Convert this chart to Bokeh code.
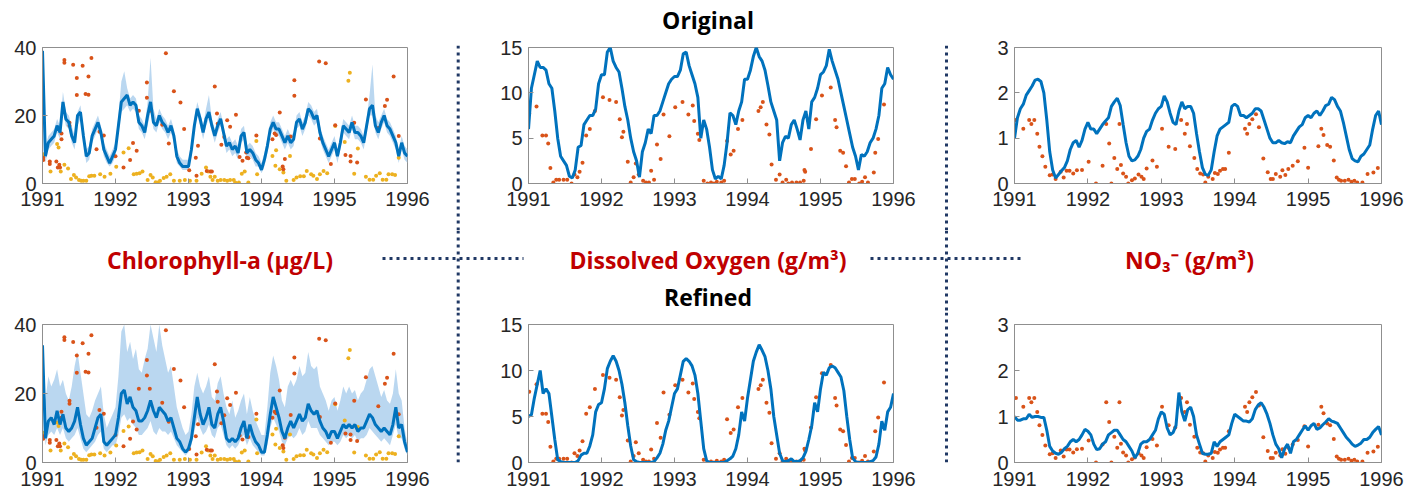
import numpy as np
from bokeh.plotting import figure
from bokeh.layouts import column, row
from bokeh.models import Range1d, FixedTicker, Span
from bokeh.core.properties import value
from bokeh.embed import file_html
from bokeh.resources import INLINE

# ---------------------------------------------------------------- data
# model output is sampled every 0.04 yr from 1991.00 to 1996.00 (126 samples)
model_t = 1991 + 0.04 * np.arange(126)

# Chlorophyll-a (ug/L), original calibration: median and spread
chl_orig = [39, 8, 12, 13, 14, 17, 15, 24, 19, 18, 14, 12, 20, 21, 14, 8, 9, 14, 16, 18, 15, 10, 8, 6, 8,
            10, 17, 24, 25, 26, 23, 24, 23, 18, 17, 15, 20, 24, 18, 17, 20, 18, 17, 15, 17, 14, 8, 6, 5, 5,
            5, 10, 17, 22, 19, 15, 19, 21, 17, 14, 17, 19, 15, 11, 12, 10, 11, 9, 14, 15, 9, 10, 9, 7, 6,
            4, 7, 11, 16, 18, 16, 16, 14, 12, 14, 12, 13, 18, 19, 16, 18, 22, 21, 19, 20, 15, 12, 10, 8, 10,
            12, 8, 12, 17, 16, 15, 18, 15, 15, 14, 12, 17, 22, 23, 17, 15, 18, 20, 17, 16, 14, 12, 8, 12, 9, 8]
chl_orig_hi = [40, 11, 14, 15, 16, 19, 17, 27, 21, 20, 17, 14, 21, 23, 17, 10, 11, 16, 18, 20, 17, 12, 10, 8, 10,
               12, 20, 30, 33, 28, 25, 26, 25, 20, 19, 17, 24, 37, 22, 19, 22, 20, 19, 17, 19, 16, 10, 8, 7, 7,
               7, 12, 19, 24, 21, 17, 22, 26, 19, 16, 19, 21, 17, 13, 14, 12, 13, 11, 16, 17, 11, 12, 11, 9, 8,
               6, 9, 13, 18, 20, 18, 18, 16, 14, 16, 14, 15, 20, 21, 18, 20, 24, 23, 21, 22, 17, 14, 12, 10, 12,
               14, 10, 14, 19, 18, 17, 20, 17, 17, 16, 14, 19, 26, 35, 20, 18, 20, 22, 19, 18, 16, 14, 10, 14, 11, 10]
chl_orig_lo = [33, 6, 10, 11, 12, 15, 13, 21, 17, 16, 12, 10, 17, 19, 12, 6, 7, 12, 14, 16, 13, 8, 6, 5, 6,
               8, 15, 21, 22, 23, 21, 22, 21, 16, 15, 13, 17, 21, 16, 15, 18, 16, 15, 13, 15, 12, 6, 5, 4, 4,
               4, 8, 15, 20, 17, 13, 17, 19, 15, 12, 15, 17, 13, 9, 10, 8, 9, 7, 12, 13, 7, 8, 7, 5, 5,
               3, 5, 9, 14, 16, 14, 14, 12, 10, 12, 10, 11, 16, 17, 14, 16, 20, 19, 17, 18, 13, 10, 8, 6, 8,
               10, 6, 10, 15, 14, 13, 16, 13, 13, 12, 10, 15, 20, 20, 15, 13, 16, 18, 15, 14, 12, 10, 6, 10, 7, 6]

# Chlorophyll-a (ug/L), refined calibration
chl_ref = [34, 7, 12, 13, 11, 15, 11, 14, 10, 9, 10, 12, 16, 11, 7, 5, 6, 7, 10, 13, 14, 6, 5, 6, 7,
           8, 13, 20, 21, 17, 19, 16, 15, 12, 12, 13, 15, 18, 15, 13, 16, 15, 14, 12, 13, 10, 7, 6, 4, 3,
           4, 7, 13, 19, 14, 11, 13, 16, 11, 10, 14, 16, 12, 7, 6, 7, 6, 7, 10, 12, 7, 11, 8, 6, 5,
           3, 3, 8, 14, 19, 16, 13, 9, 7, 10, 12, 10, 12, 14, 12, 13, 17, 15, 14, 15, 12, 10, 9, 7, 9,
           9, 7, 9, 11, 10, 11, 10, 11, 9, 10, 10, 12, 14, 13, 11, 10, 9, 10, 9, 8, 11, 16, 10, 11, 6, 3]
chl_ref_hi = [34, 18, 25, 22, 24, 27, 22, 24, 20, 18, 22, 28, 32, 26, 20, 14, 13, 15, 18, 20, 22, 14, 10, 12, 14,
              16, 25, 38, 40, 32, 35, 30, 33, 27, 26, 30, 33, 40, 36, 32, 40, 34, 30, 26, 28, 22, 16, 13, 10, 8,
              9, 14, 22, 26, 22, 20, 22, 25, 19, 18, 23, 25, 20, 16, 14, 18, 13, 15, 18, 20, 14, 19, 15, 12, 10,
              8, 8, 16, 26, 31, 28, 24, 18, 16, 22, 24, 22, 24, 28, 25, 26, 32, 28, 27, 28, 22, 20, 18, 15, 18,
              19, 15, 18, 22, 20, 22, 20, 21, 18, 20, 21, 24, 27, 28, 25, 22, 19, 21, 18, 17, 20, 27, 20, 18, 10, 5]
chl_ref_lo = [28, 5, 8, 9, 8, 10, 8, 10, 7, 6, 7, 8, 10, 7, 4, 3, 4, 5, 6, 8, 9, 4, 3, 4, 5,
              5, 8, 13, 14, 12, 13, 11, 10, 8, 8, 9, 10, 12, 9, 8, 10, 9, 9, 8, 9, 7, 5, 4, 3, 2,
              3, 5, 9, 13, 10, 8, 9, 11, 8, 7, 10, 11, 8, 5, 4, 5, 4, 5, 7, 8, 5, 7, 5, 4, 3,
              2, 2, 5, 10, 13, 11, 9, 6, 5, 7, 8, 7, 8, 10, 8, 9, 12, 10, 10, 10, 8, 7, 6, 5, 6,
              6, 5, 6, 8, 7, 8, 7, 8, 6, 7, 7, 8, 10, 9, 8, 7, 6, 7, 6, 5, 8, 11, 7, 7, 4, 2]

# Dissolved oxygen (g/m3)
do_orig = [6, 10.5, 12, 13.5, 12.8, 12.8, 12.5, 11, 10.5, 8, 5, 3, 2.5, 2, 0.8, 0.6, 1.5, 4, 4.2, 6.5, 7, 7.5, 7.5, 8.2, 11,
           12, 12, 14.5, 15, 13.5, 12.8, 12.3, 10.5, 8.5, 7, 5, 3.5, 2.5, 0.7, 3.5, 4.5, 6, 5.5, 7.5, 7.5, 8, 9, 10, 11, 11.5,
           11.8, 11.8, 12.5, 14.3, 14.5, 13, 12, 11, 9.5, 5, 7, 6, 4, 1.5, 0.5, 0.8, 0.5, 2, 4.5, 7.8, 7.5, 6.5, 8, 9, 11.5,
           11.5, 12.5, 14, 15, 14, 13.5, 12.5, 10.8, 9, 8, 7, 2.5, 4.5, 5.2, 5, 6.5, 7, 6, 4.8, 7, 8, 6, 9, 9.5, 10.5,
           12, 12.3, 13, 14.8, 13.5, 12.5, 11.5, 10, 8.5, 7, 5.5, 4, 3, 1.5, 3.2, 3, 3.5, 4.5, 5, 6, 7.5, 10.5, 11, 12.8, 12, 11.5]
do_ref = [5, 5.2, 7, 8.5, 10, 7.5, 8, 7.5, 5, 2.5, 0.3, 0.1, 0, 0, 0, 0, 0, 0.2, 0.8, 1, 1, 1.8, 3, 5.5, 6.3,
          6.5, 8, 10.2, 11, 11.6, 11, 10, 8.5, 6.5, 4, 1.8, 0.3, 0.1, 0, 0, 0, 0, 0, 0.1, 0.5, 1, 2, 3.5, 4.5, 6,
          7.5, 8, 9.5, 11, 11.3, 11, 10.5, 9.5, 7.5, 4.5, 1.5, 0.2, 0, 0, 0, 0, 0, 0, 0.2, 0.4, 0.7, 1.5, 3, 5.5, 4.5,
          7, 9, 11, 12, 12.8, 12.2, 11.5, 10, 8, 5, 3, 1, 0.2, 0.1, 0.2, 0.4, 0.1, 0.1, 0.2, 0.5, 1.2, 2.5, 4, 6.5, 5.5,
          8, 9.8, 9.5, 10.3, 10.5, 10.3, 9.8, 9.3, 7.8, 5, 2.5, 0.5, 0.1, 0, 0, 0, 0, 0.1, 0.2, 0.6, 2, 4.5, 3.5, 5.5, 6, 7.5]

# Nitrate (g/m3)
no3_orig = [1.0, 1.45, 1.65, 1.75, 1.95, 2.05, 2.15, 2.28, 2.3, 2.25, 2.0, 1.4, 0.7, 0.3, 0.12, 0.2, 0.28, 0.35, 0.5, 0.75, 0.9, 0.95, 0.8, 0.95, 1.2,
            1.35, 1.2, 1.2, 1.1, 1.2, 1.3, 1.38, 1.45, 1.7, 1.8, 1.88, 1.72, 1.3, 0.9, 0.6, 0.5, 0.52, 0.6, 0.75, 1.0, 1.15, 1.2, 1.4, 1.55, 1.65,
            1.7, 1.93, 1.8, 1.55, 1.35, 1.3, 1.6, 1.8, 1.65, 1.7, 1.7, 1.55, 1.1, 0.7, 0.35, 0.2, 0.18, 0.3, 0.7, 1.05, 1.2, 1.25, 1.3, 1.35, 1.7,
            1.75, 1.7, 1.5, 1.5, 1.45, 1.5, 1.55, 1.65, 1.65, 1.6, 1.4, 1.2, 1.0, 0.9, 0.9, 0.95, 0.9, 0.88, 0.92, 0.9, 1.05, 1.15, 1.25, 1.3, 1.45,
            1.5, 1.45, 1.55, 1.6, 1.5, 1.6, 1.72, 1.75, 1.9, 1.85, 1.7, 1.6, 1.35, 1.05, 0.75, 0.55, 0.5, 0.48, 0.6, 0.65, 0.75, 0.85, 1.2, 1.5, 1.6, 1.3]
no3_ref = [1.0, 0.92, 0.92, 0.95, 0.95, 1.05, 0.98, 1.0, 1.0, 0.98, 0.98, 0.7, 0.35, 0.25, 0.2, 0.18, 0.22, 0.3, 0.35, 0.45, 0.5, 0.45, 0.5, 0.6, 0.72,
           0.68, 0.6, 0.4, 0.28, 0.3, 0.4, 0.45, 0.6, 0.65, 0.7, 0.7, 0.6, 0.5, 0.45, 0.35, 0.25, 0.1, 0.2, 0.4, 0.45, 0.45, 0.5, 0.6, 0.7, 0.95,
           1.1, 1.05, 0.75, 0.6, 0.65, 0.8, 1.52, 1.1, 0.9, 1.15, 1.2, 1.0, 0.6, 0.4, 0.2, 0.18, 0.18, 0.2, 0.45, 0.35, 0.45, 0.5, 0.55, 0.6, 0.85,
           1.05, 1.0, 0.95, 0.9, 0.9, 0.88, 0.95, 1.15, 1.25, 1.3, 1.2, 1.05, 0.85, 0.6, 0.4, 0.3, 0.1, 0.3, 0.4, 0.2, 0.45, 0.5, 0.6, 0.7, 0.8,
           0.7, 0.8, 0.85, 0.72, 0.75, 0.82, 0.88, 0.95, 0.9, 0.88, 0.85, 0.75, 0.65, 0.55, 0.48, 0.4, 0.35, 0.38, 0.42, 0.5, 0.5, 0.55, 0.65, 0.72, 0.78, 0.6]

# field observations (decimal year, value)
chl_obs_a = [(1991.01, 7.6), (1991.01, 6.9), (1991.10, 6.5), (1991.10, 5.7), (1991.19, 6.5), (1991.21, 4.7),
             (1991.23, 5.5), (1991.24, 4.7), (1991.26, 14.7), (1991.26, 13.0), (1991.30, 36.3), (1991.30, 35.5),
             (1991.37, 17.9), (1991.37, 17.0), (1991.42, 34.9), (1991.47, 31.0), (1991.47, 26.0), (1991.55, 34.6),
             (1991.59, 26.3), (1991.63, 26.1), (1991.63, 31.5), (1991.67, 36.9), (1991.74, 10.1), (1991.78, 15.2),
             (1991.84, 14.1), (1992.00, 8.0), (1992.11, 4.7), (1992.20, 6.9), (1992.24, 11.9), (1992.29, 9.6),
             (1992.32, 21.4), (1992.43, 29.7), (1992.43, 25.2), (1992.47, 21.4), (1992.64, 17.3), (1992.69, 38.3),
             (1992.73, 11.8), (1992.80, 27.1), (1992.89, 23.8), (1992.94, 16.0), (1993.01, 3.9), (1993.10, 7.6),
             (1993.11, 2.3), (1993.13, 11.1), (1993.25, 3.7), (1993.30, 3.5), (1993.32, 3.5), (1993.36, 28.5),
             (1993.39, 20.6), (1993.40, 17.6), (1993.45, 11.4), (1993.49, 13.7), (1993.53, 18.6), (1993.57, 16.7),
             (1993.65, 20.2), (1993.70, 7.8), (1993.74, 6.7), (1993.79, 9.1), (1993.80, 7.6), (1993.82, 7.4),
             (1993.93, 14.1), (1994.15, 13.0), (1994.18, 14.7), (1994.20, 14.3), (1994.25, 20.9), (1994.29, 5.0),
             (1994.30, 4.2), (1994.32, 7.2), (1994.40, 13.8), (1994.45, 30.4), (1994.45, 25.8), (1994.79, 35.9),
             (1994.80, 13.2), (1994.88, 35.4), (1994.95, 5.7), (1995.01, 17.1), (1995.15, 8.4), (1995.22, 8.1),
             (1995.22, 6.5), (1995.27, 17.9), (1995.31, 6.2), (1995.43, 24.7), (1995.60, 16.3), (1995.69, 22.8),
             (1995.72, 24.6), (1995.81, 31.5), (1995.88, 14.0)]
chl_obs_b = [(1991.01, 8.6), (1991.01, 8.1), (1991.20, 11.6), (1991.22, 10.6), (1991.11, 3.5), (1991.25, 3.5),
             (1991.30, 5.5), (1991.35, 4.4), (1991.39, 1.3), (1991.43, 2.5), (1991.46, 1.8), (1991.50, 1.0),
             (1991.53, 0.8), (1991.56, 0.8), (1991.60, 0.8), (1991.64, 2.1), (1991.67, 2.3), (1991.71, 2.3),
             (1991.79, 2.7), (1991.85, 2.0), (1991.93, 2.9), (1992.01, 4.9), (1992.11, 9.1), (1992.18, 10.4),
             (1992.25, 2.7), (1992.29, 2.9), (1992.33, 3.0), (1992.37, 3.5), (1992.44, 1.0), (1992.48, 2.5),
             (1992.51, 1.8), (1992.55, 0.4), (1992.58, 0.3), (1992.61, 0.8), (1992.66, 1.6), (1992.70, 2.0),
             (1992.75, 2.7), (1992.80, 0.8), (1992.88, 0.8), (1992.95, 1.0), (1993.02, 0.8), (1993.11, 0.8),
             (1993.18, 2.9), (1993.24, 4.7), (1993.27, 3.5), (1993.30, 2.0), (1993.33, 1.0), (1993.36, 2.0),
             (1993.40, 0.8), (1993.44, 1.0), (1993.49, 1.0), (1993.53, 0.8), (1993.57, 1.0), (1993.62, 1.0),
             (1993.64, 0.3), (1993.69, 0.3), (1993.73, 2.9), (1993.77, 3.5), (1993.82, 0.3), (1993.93, 12.5),
             (1993.94, 2.7), (1994.15, 8.1), (1994.19, 5.2), (1994.20, 9.8), (1994.25, 4.2), (1994.30, 3.2),
             (1994.34, 0.8), (1994.39, 8.1), (1994.44, 1.0), (1994.48, 1.8), (1994.53, 2.1), (1994.58, 2.1),
             (1994.62, 3.7), (1994.68, 2.7), (1994.71, 2.3), (1994.76, 1.3), (1994.80, 2.7), (1994.85, 3.7),
             (1994.90, 3.0), (1995.01, 16.9), (1995.14, 12.2), (1995.19, 30.2), (1995.21, 32.6), (1995.27, 2.9),
             (1995.32, 10.3), (1995.43, 2.0), (1995.48, 1.1), (1995.53, 1.1), (1995.57, 2.3), (1995.62, 3.0),
             (1995.66, 1.1), (1995.71, 1.1), (1995.74, 2.7), (1995.79, 2.7), (1995.83, 2.5), (1995.88, 7.6)]
do_obs = [(1991.01, 7.7), (1991.11, 8.5), (1991.19, 5.3), (1991.24, 5.3), (1991.27, 4.4), (1991.30, 1.7),
          (1991.34, 0.1), (1991.38, 0.4), (1991.42, 0.4), (1991.48, 0.4), (1991.53, 0.4), (1991.59, 0.0),
          (1991.63, 1.0), (1991.67, 0.7), (1991.70, 1.3), (1991.74, 2.3), (1991.79, 5.3), (1991.84, 6.0),
          (1991.91, 8.0), (1992.02, 9.5), (1992.11, 9.2), (1992.20, 9.0), (1992.25, 7.1), (1992.28, 5.1),
          (1992.30, 5.7), (1992.36, 2.4), (1992.40, 0.1), (1992.44, 0.7), (1992.47, 2.2), (1992.51, 1.0),
          (1992.57, 0.3), (1992.61, 0.1), (1992.65, 0.1), (1992.68, 1.4), (1992.72, 0.4), (1992.76, 4.3),
          (1992.81, 2.7), (1992.85, 7.6), (1992.93, 5.2), (1993.01, 8.4), (1993.11, 9.0), (1993.19, 7.6),
          (1993.25, 8.6), (1993.27, 6.9), (1993.32, 5.5), (1993.34, 4.8), (1993.40, 0.3), (1993.45, 0.0),
          (1993.50, 0.1), (1993.54, 0.0), (1993.58, 0.2), (1993.64, 0.1), (1993.68, 0.3), (1993.72, 4.7),
          (1993.77, 3.2), (1993.81, 3.6), (1993.87, 6.0), (1993.93, 7.0), (1994.15, 8.0), (1994.18, 8.4),
          (1994.21, 9.0), (1994.26, 6.5), (1994.30, 5.4), (1994.33, 2.1), (1994.39, 0.4), (1994.44, 1.0),
          (1994.48, 0.1), (1994.53, 0.4), (1994.56, 0.0), (1994.61, 0.1), (1994.67, 0.1), (1994.72, 0.1),
          (1994.77, 0.3), (1994.78, 1.5), (1994.79, 1.3), (1994.87, 3.8), (1994.94, 7.1), (1995.02, 9.7),
          (1995.14, 10.6), (1995.20, 7.0), (1995.22, 6.2), (1995.27, 3.6), (1995.31, 3.4), (1995.35, 1.9),
          (1995.39, 0.1), (1995.43, 0.5), (1995.47, 0.5), (1995.53, 0.0), (1995.57, 0.2), (1995.61, 0.7),
          (1995.65, 0.1), (1995.73, 1.2), (1995.75, 3.4), (1995.79, 4.9), (1995.87, 8.7)]
no3_obs = [(1991.02, 1.40), (1991.12, 1.21), (1991.20, 1.40), (1991.23, 1.31), (1991.27, 1.40), (1991.31, 1.10),
           (1991.34, 0.81), (1991.38, 0.60), (1991.42, 0.37), (1991.48, 0.18), (1991.52, 0.20), (1991.56, 0.10),
           (1991.63, 0.26), (1991.67, 0.13), (1991.71, 0.28), (1991.75, 0.28), (1991.80, 0.22), (1991.85, 0.29),
           (1991.92, 0.30), (1992.01, 0.48), (1992.11, 0.00), (1992.20, 0.39), (1992.25, 1.31), (1992.29, 0.88),
           (1992.32, 0.00), (1992.36, 0.56), (1992.40, 0.32), (1992.43, 1.31), (1992.45, 0.41), (1992.48, 0.22),
           (1992.52, 0.15), (1992.55, 0.00), (1992.60, 0.07), (1992.64, 0.11), (1992.69, 0.20), (1992.73, 0.15),
           (1992.76, 0.10), (1992.80, 0.33), (1992.88, 0.51), (1992.94, 0.37), (1993.01, 1.21), (1993.10, 0.81),
           (1993.19, 0.76), (1993.27, 1.40), (1993.32, 1.10), (1993.35, 1.31), (1993.39, 0.82), (1993.45, 0.56),
           (1993.49, 0.32), (1993.53, 0.22), (1993.57, 0.20), (1993.60, 0.02), (1993.64, 0.15), (1993.70, 0.10),
           (1993.73, 0.23), (1993.77, 0.21), (1993.80, 0.28), (1993.84, 0.32), (1993.87, 0.32), (1993.92, 0.68),
           (1994.14, 1.21), (1994.17, 1.10), (1994.20, 1.31), (1994.24, 1.42), (1994.29, 1.53), (1994.33, 1.24),
           (1994.39, 0.55), (1994.45, 0.25), (1994.49, 0.10), (1994.52, 0.10), (1994.56, 0.21), (1994.62, 0.15),
           (1994.65, 0.29), (1994.69, 0.19), (1994.73, 0.32), (1994.79, 0.39), (1994.86, 0.49), (1994.95, 0.79),
           (1995.00, 0.35), (1995.14, 0.82), (1995.18, 1.21), (1995.21, 1.07), (1995.26, 0.85), (1995.30, 0.81),
           (1995.35, 0.51), (1995.39, 0.13), (1995.42, 0.08), (1995.45, 0.06), (1995.50, 0.06), (1995.55, 0.08),
           (1995.59, 0.04), (1995.63, 0.06), (1995.67, 0.02), (1995.74, 0.02), (1995.81, 0.21), (1995.89, 0.24),
           (1995.95, 0.34)]

year_ticks = [1991, 1992, 1993, 1994, 1995, 1996]

# ---------------------------------------------------------------- styling
BLUE = "#0072BD"
BAND = "#B3D3EE"
RED = "#D95319"
GOLD = "#EDB120"
NAVY = "#203864"
FRAME = "#8F8F8F"
INK = "#262626"
HEAD_FONT = value("Open Sans")


def panel(width, height, left, right, top, bottom, ymax, yticks, x_standoff):
    p = figure(width=width, height=height, x_range=Range1d(1991, 1996), y_range=Range1d(0, ymax),
               output_backend="svg", toolbar_location=None, frame_align=False,
               min_border_left=left, min_border_right=right, min_border_top=top, min_border_bottom=bottom)
    p.grid.visible = False
    p.outline_line_color = FRAME
    p.outline_line_width = 1
    p.xaxis.ticker = FixedTicker(ticks=year_ticks)
    p.yaxis.ticker = FixedTicker(ticks=yticks)
    for ax in (p.xaxis[0], p.yaxis[0]):
        ax.axis_line_color = FRAME
        ax.major_tick_line_color = FRAME
        ax.major_tick_in = 5
        ax.major_tick_out = 0
        ax.minor_tick_line_color = None
        ax.major_label_text_font = "Liberation Sans"
        ax.major_label_text_font_size = "20px"
        ax.major_label_text_color = INK
    p.xaxis.major_label_standoff = x_standoff
    p.yaxis.major_label_standoff = 6
    return p


def add_obs(p, pts, color):
    p.scatter([a for a, _ in pts], [b for _, b in pts], size=4, color=color, line_width=0)


def blank(width, height, top=0, bottom=0):
    g = figure(width=width, height=height, x_range=Range1d(0, width),
               y_range=Range1d(height - top - bottom, 0),
               output_backend="svg", toolbar_location=None, frame_align=False,
               min_border_left=0, min_border_right=0, min_border_top=top, min_border_bottom=bottom,
               x_axis_type=None, y_axis_type=None)
    g.grid.visible = False
    g.outline_line_color = None
    return g


def vrule(g, x):
    g.add_layout(Span(location=x, dimension="height", line_color=NAVY, line_width=3,
                      line_dash="3 4", line_cap="butt"))


def hdots(g, x0, x1, y):
    g.segment(x0=[x0], y0=[y], x1=[x1], y1=[y], line_color=NAVY, line_width=3,
              line_dash="3 4", line_cap="butt")


# column widths: 447 | 22 | 468 | 20 | 462  -> 1419
HEAD_H, TOP_H, MID_H, BOT_H = 36, 194, 82, 182

# ---------------------------------------------------------------- top row (original)
p1 = panel(447, TOP_H, 42, 40, 11, 47, 40, [0, 20, 40], 8)
p1.varea(model_t, chl_orig_lo, chl_orig_hi, fill_color=BAND, fill_alpha=0.9)
add_obs(p1, chl_obs_b, GOLD)
add_obs(p1, chl_obs_a, RED)
p1.line(model_t, chl_orig, line_color=BLUE, line_width=3)

p2 = panel(468, TOP_H, 59, 44, 11, 47, 15, [0, 5, 10, 15], 8)
add_obs(p2, do_obs, RED)
p2.line(model_t, do_orig, line_color=BLUE, line_width=3)

p3 = panel(462, TOP_H, 57, 38, 11, 47, 3, [0, 1, 2, 3], 8)
add_obs(p3, no3_obs, RED)
p3.line(model_t, no3_orig, line_color=BLUE, line_width=3)

g1t = blank(22, TOP_H, top=9)
vrule(g1t, 10.7)
g2t = blank(20, TOP_H, top=9)
vrule(g2t, 9)

# ---------------------------------------------------------------- bottom row (refined)
p4 = panel(447, BOT_H, 42, 40, 12, 32, 40, [0, 20, 40], 9)
p4.varea(model_t, chl_ref_lo, chl_ref_hi, fill_color=BAND, fill_alpha=0.9)
add_obs(p4, chl_obs_b, GOLD)
add_obs(p4, chl_obs_a, RED)
p4.line(model_t, chl_ref, line_color=BLUE, line_width=3)

p5 = panel(468, BOT_H, 59, 44, 12, 32, 15, [0, 5, 10, 15], 9)
add_obs(p5, do_obs, RED)
p5.line(model_t, do_ref, line_color=BLUE, line_width=3)

p6 = panel(462, BOT_H, 57, 38, 12, 32, 3, [0, 1, 2, 3], 9)
add_obs(p6, no3_obs, RED)
p6.line(model_t, no3_ref, line_color=BLUE, line_width=3)

g1b = blank(22, BOT_H, bottom=32)
vrule(g1b, 10.7)
g2b = blank(20, BOT_H, bottom=32)
vrule(g2b, 9)

# ---------------------------------------------------------------- headings and variable names
head = blank(1419, HEAD_H)
head.text(x=[707.5], y=[19], text=["Original"], text_font=HEAD_FONT, text_font_style="bold",
          text_font_size="23px", text_color="black", text_align="center", text_baseline="alphabetic")

mid = blank(1419, MID_H)
mid.text(x=[219.5, 707.5, 1189], y=[29, 29, 29],
         text=["Chlorophyll-a (\u03bcg/L)", "Dissolved Oxygen (g/m\u00b3)", "NO\u2083\u207b (g/m\u00b3)"],
         text_font=HEAD_FONT, text_font_style="bold", text_font_size="23px", text_color="#C00000",
         text_align="center", text_baseline="alphabetic")
mid.text(x=[707.5], y=[66], text=["Refined"], text_font=HEAD_FONT, text_font_style="bold",
         text_font_size="23px", text_color="black", text_align="center", text_baseline="alphabetic")
hdots(mid, 382, 523, 28)
hdots(mid, 870, 1020, 28)
vrule(mid, 457.7)
vrule(mid, 946)

layout = column(
    head,
    row(p1, g1t, p2, g2t, p3),
    mid,
    row(p4, g1b, p5, g2b, p6),
)

open("out.html", "w").write(file_html(layout, INLINE))
